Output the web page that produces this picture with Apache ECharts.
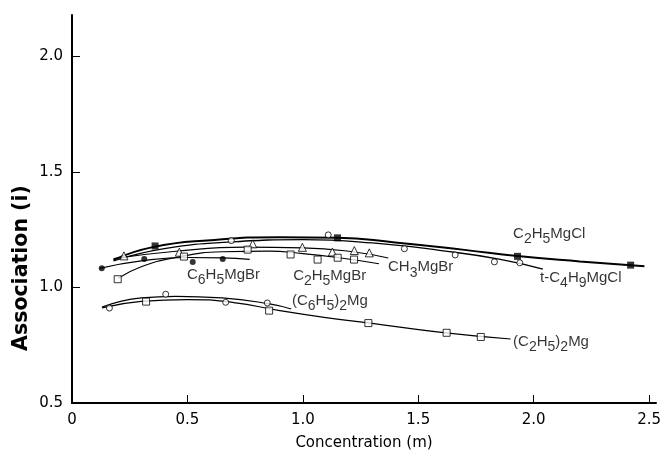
<!DOCTYPE html>
<html><head><meta charset="utf-8">
<script src="https://cdn.jsdelivr.net/npm/echarts@6/dist/echarts.min.js"></script>
<style>html,body{margin:0;padding:0;background:#fff}#c{width:664px;height:456px}</style>
</head><body><div id="c"></div>
<script>
// ---- data ----
const xTickValues = [0, 0.5, 1.0, 1.5, 2.0, 2.5];
const yTickValues = [0.5, 1.0, 1.5, 2.0];

// fitted curves
const curveC2H5MgCl = [[0.18,1.12],[0.35,1.175],[0.6,1.205],[0.9,1.218],[1.15,1.216],[1.4,1.195],[1.7,1.163],[1.93,1.136],[2.2,1.113],[2.48,1.092]];
const curveTC4H9MgCl = [[0.18,1.115],[0.4,1.168],[0.7,1.198],[1.0,1.207],[1.3,1.193],[1.6,1.16],[1.85,1.123],[2.04,1.08]];
const curveCH3MgBr = [[0.18,1.125],[0.45,1.157],[0.75,1.175],[1.0,1.172],[1.2,1.157],[1.37,1.128]];
const curveC2H5MgBr = [[0.2,1.04],[0.3,1.09],[0.45,1.13],[0.65,1.155],[0.85,1.158],[1.0,1.147],[1.15,1.13],[1.33,1.103]];
const curveC6H5MgBr = [[0.12,1.083],[0.3,1.115],[0.5,1.13],[0.65,1.128],[0.77,1.122]];
const curveC6H5_2Mg = [[0.13,0.915],[0.3,0.955],[0.45,0.962],[0.65,0.955],[0.85,0.93],[0.95,0.907]];
const curveC2H5_2Mg = [[0.13,0.912],[0.3,0.94],[0.5,0.948],[0.7,0.935],[0.9,0.9],[1.1,0.87],[1.3,0.845],[1.6,0.806],[1.9,0.777]];

// measured points
const ptsC2H5MgCl = [[0.36,1.18],[1.15,1.215],[1.93,1.135],[2.42,1.097]];
const ptsTC4H9MgCl = [[0.69,1.203],[1.11,1.228],[1.44,1.168],[1.66,1.141],[1.83,1.111],[1.94,1.107]];
const ptsCH3MgBr = [[0.225,1.137],[0.465,1.153],[0.783,1.189],[0.998,1.174],[1.128,1.154],[1.223,1.16],[1.288,1.15]];
const ptsC2H5MgBr = [[0.198,1.036],[0.485,1.134],[0.761,1.164],[0.947,1.143],[1.064,1.121],[1.151,1.129],[1.222,1.121]];
const ptsC6H5MgBr = [[0.129,1.083],[0.313,1.123],[0.523,1.111],[0.653,1.124]];
const ptsC6H5_2Mg = [[0.162,0.911],[0.406,0.971],[0.666,0.936],[0.846,0.933]];
const ptsC2H5_2Mg = [[0.321,0.939],[0.854,0.9],[1.284,0.846],[1.623,0.804],[1.771,0.786]];

// curve labels: [x, y, text]  (_n = subscript)
const curveLabels = [
  [0.498, 1.043, 'C_6H_5MgBr'],
  [0.958, 1.039, 'C_2H_5MgBr'],
  [1.369, 1.077, 'CH_3MgBr'],
  [1.911, 1.223, 'C_2H_5MgCl'],
  [2.028, 1.030, 't-C_4H_9MgCl'],
  [0.953, 0.931, '(C_6H_5)_2Mg'],
  [1.911, 0.756, '(C_2H_5)_2Mg']
];

// ---- chart ----
function toRich(s) {
  let out = '', buf = '';
  for (let i = 0; i < s.length; i++) {
    if (s[i] === '_') {
      if (buf) { out += '{n|' + buf + '}'; buf = ''; }
      out += '{s|' + s[i + 1] + '}';
      i++;
    } else buf += s[i];
  }
  if (buf) out += '{n|' + buf + '}';
  return out;
}

function curve(data, w) {
  return { type: 'line', data: data, smooth: 0.5, showSymbol: false, symbol: 'none',
           lineStyle: { color: '#000', width: w }, silent: true, z: 2 };
}
function pts(data, symbol, size, filled) {
  return { type: 'scatter', data: data, symbol: symbol, symbolSize: size, z: 3,
           itemStyle: filled ? { color: '#000' } : { color: '#fff', borderColor: '#000', borderWidth: 1 } };
}

const FONT = 'DejaVu Sans';
const chart = echarts.init(document.getElementById('c'), null, { renderer: 'canvas' });
chart.setOption({
  backgroundColor: '#fff',
  animation: false,
  grid: { left: 72, right: 8, top: 15, bottom: 49, containLabel: false },
  xAxis: {
    type: 'value', min: 0, max: 2.53, interval: 0.5,
    name: 'Concentration (m)', nameLocation: 'middle', nameGap: 33,
    nameTextStyle: { fontFamily: FONT, fontSize: 15, color: '#000' },
    axisLine: { lineStyle: { color: '#000', width: 2 } },
    axisTick: { inside: true, length: 8, lineStyle: { color: '#000', width: 1 } },
    axisLabel: { showMaxLabel: false, margin: 10, fontFamily: FONT, fontSize: 15, color: '#000',
      formatter: v => xTickValues.indexOf(v) < 0 ? '' : (v === 0 ? '0' : v.toFixed(1)) },
    splitLine: { show: false }
  },
  yAxis: {
    type: 'value', min: 0.5, max: 2.18, interval: 0.5,
    axisLine: { lineStyle: { color: '#000', width: 2 } },
    axisTick: { inside: true, length: 8, lineStyle: { color: '#000', width: 1 } },
    axisLabel: { showMaxLabel: false, margin: 9, fontFamily: FONT, fontSize: 15, color: '#000',
      formatter: v => yTickValues.indexOf(v) < 0 ? '' : v.toFixed(1) },
    splitLine: { show: false }
  },
  graphic: [{
    type: 'text', x: 22, y: 268, rotation: Math.PI / 2,
    style: { text: 'Association (i)', font: 'bold 20.5px "DejaVu Sans"', fill: '#000',
             textAlign: 'center', textVerticalAlign: 'middle' }
  }],
  series: [
    curve(curveC2H5MgCl, 2),
    curve(curveTC4H9MgCl, 1.3),
    curve(curveCH3MgBr, 1.2),
    curve(curveC2H5MgBr, 1.2),
    curve(curveC6H5MgBr, 1.2),
    curve(curveC6H5_2Mg, 1.2),
    curve(curveC2H5_2Mg, 1.2),
    pts(ptsC2H5MgCl, 'rect', 7, true),
    pts(ptsTC4H9MgCl, 'circle', 6, false),
    pts(ptsCH3MgBr, 'triangle', 8, false),
    pts(ptsC2H5MgBr, 'rect', 7, false),
    pts(ptsC6H5MgBr, 'circle', 6, true),
    pts(ptsC6H5_2Mg, 'circle', 6, false),
    pts(ptsC2H5_2Mg, 'rect', 7, false),
    {
      type: 'scatter', symbolSize: 0, z: 4, silent: true,
      data: curveLabels.map(l => ({ value: [l[0], l[1]], name: l[2] })),
      label: {
        show: true, position: 'right', distance: 0, color: '#000',
        formatter: p => toRich(p.name),
        rich: {
          n: { fontFamily: 'Liberation Sans', fontSize: 15, lineHeight: 14, verticalAlign: 'top', color: '#000' },
          s: { fontFamily: 'Liberation Sans', fontSize: 14, lineHeight: 20, verticalAlign: 'bottom', color: '#000' }
        }
      }
    }
  ]
});
</script>
</body></html>
